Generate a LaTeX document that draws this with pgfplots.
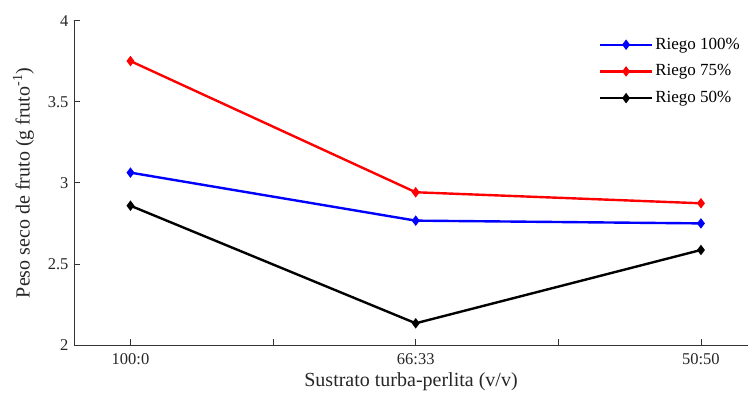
\documentclass[border=0pt]{standalone}
\usepackage{fontspec}
\setmainfont{Liberation Serif}
\usepackage{pgfplots}
\pgfplotsset{compat=1.18}
\begin{document}
\fontsize{16}{19}\selectfont
\begin{tikzpicture}
\useasboundingbox (-74pt,-49pt) rectangle (678pt,345pt);
\begin{axis}[
  at={(0,0)}, anchor=south west,
  scale only axis, width=674pt, height=324.3pt,
  xmin=0.802, xmax=3.165, ymin=2, ymax=4,
  axis x line*=bottom, axis y line*=left,
  axis line style={line width=0.8pt, color=black!80},
  tick align=inside, major tick length=6.5pt,
  tick style={line width=0.8pt, color=black!80},
  xtick={1,1.5,2,2.5,3}, xticklabels={100:0,,66:33,,50:50},
  ytick={2,2.5,3,3.5,4}, yticklabels={2,2.5,3,3.5,4},
  tick label style={font=\fontsize{16.5}{19}\selectfont, text=black!85},
  xticklabel style={yshift=-3pt},
  /pgf/number format/assume math mode=true,
  xlabel={Sustrato turba-perlita (v/v)},
  ylabel={Peso seco de fruto (g fruto\textsuperscript{-1})},
  label style={font=\fontsize{20}{23}\selectfont, text=black!85},
  xlabel style={at={(axis description cs:0.5,0)}, anchor=center, yshift=-37pt},
  ylabel style={at={(axis description cs:-0.075,0.5)}, anchor=center},
  legend style={draw=none, fill=none, at={(axis description cs:0.774,0.96)}, anchor=north west,
    font=\fontsize{17}{20}\selectfont, row sep=9pt},
  legend cell align=left,
  legend image code/.code={\draw[mark repeat=2,mark phase=2] plot coordinates {(0pt,0pt) (26pt,0pt) (52pt,0pt)};},
  every axis plot/.append style={line width=2.4pt, mark=diamond*, mark size=3.3pt, mark options={solid}},
]
\addplot[color=blue, mark options={fill=blue}] coordinates {(1,3.063) (2,2.767) (3,2.75)};
\addlegendentry{Riego 100\%}
\addplot[color=red, mark options={fill=red}] coordinates {(1,3.751) (2,2.942) (3,2.874)};
\addlegendentry{Riego 75\%}
\addplot[color=black, mark options={fill=black}] coordinates {(1,2.859) (2,2.134) (3,2.586)};
\addlegendentry{Riego 50\%}
\end{axis}
\end{tikzpicture}
\end{document}
